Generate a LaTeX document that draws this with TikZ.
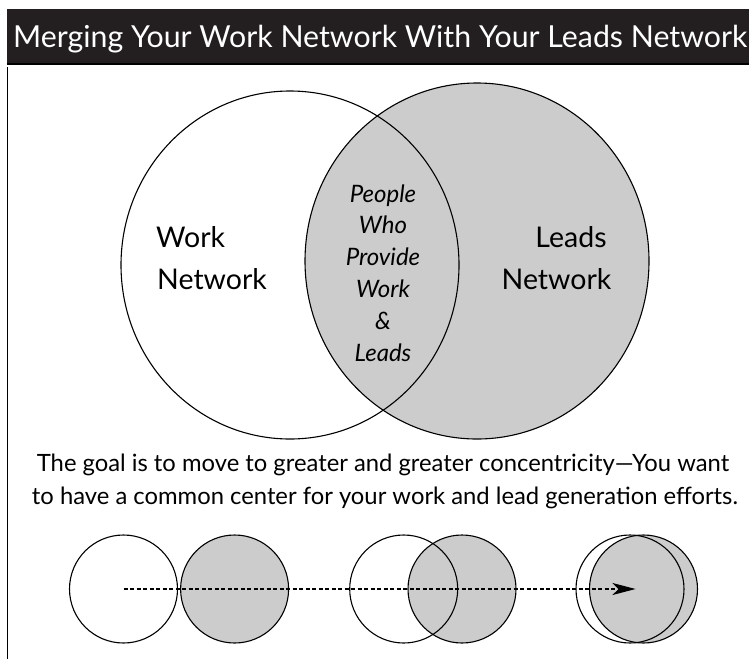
\documentclass[tikz,border=0pt]{standalone}
\usepackage{fontspec}
\setmainfont{Lato}
\usetikzlibrary{arrows.meta, shapes.geometric}
\definecolor{barblack}{HTML}{231F20}
\definecolor{venngray}{HTML}{CCCCCC}

\begin{document}
\begin{tikzpicture}[x=1pt, y=-1pt, >={Stealth[length=23pt, width=12pt, inset=6pt]},
  ring/.style={draw, ellipse, line width=1.1pt, inner sep=0pt},
  dot/.style={draw, circle, line width=1.1pt, inner sep=0pt, minimum size=108pt},
  biglabel/.style={anchor=base, inner sep=0pt, font=\fontsize{28.5}{34}\selectfont},
  lenslabel/.style={anchor=base, inner sep=0pt, font=\fontsize{24}{28}\selectfont\itshape},
  caption/.style={anchor=base, inner sep=0pt, font=\fontsize{23.8}{28}\selectfont}]
  \useasboundingbox (0,0) rectangle (749,659);
  % title bar
  \fill[barblack] (7,9) rectangle (749,64);
  \draw[black, line width=2pt] (7,64) -- (749,64);
  \node[anchor=base west, inner sep=0pt, text=white, font=\fontsize{30.3}{36}\selectfont] (title) at (13,47) {Merging Your Work Network With Your Leads Network};
  \draw[line width=1.6pt] (7.5,67) -- (7.5,659);

  % venn diagram
  \node[ring, fill=venngray, minimum width=344pt, minimum height=356pt] (leads) at (477,261) {};
  \node[ring, minimum width=338pt, minimum height=348pt] (work) at (290,265) {};
  \node[biglabel, anchor=base west] (worktop) at (156,247) {Work};
  \node[biglabel, anchor=base west] (workbot) at (157,289) {Network};
  \node[biglabel] (leadstop) at (571,247) {Leads};
  \node[biglabel] (leadsbot) at (556.5,289) {Network};
  \foreach \txt [count=\i] in {People, Who, Provide, Work, \&, Leads}
    \node[lenslabel] (lens\i) at (383,{202+31.8*(\i-1)}) {\txt};

  \node[caption] (goal1) at (383,471) {The goal is to move to greater and greater concentricity---You want};
  \node[caption] (goal2) at (385,504) {to have a common center for your work and lead generation efforts.};

  % steps towards concentricity
  \node[dot, fill=venngray] (g1) at (234.6,589) {};
  \node[dot] (w1) at (123.5,589) {};
  \node[dot, fill=venngray] (g2) at (462,589) {};
  \node[dot] (w2) at (403.7,589) {};
  \node[dot, fill=venngray] (g3) at (643.5,589) {};
  \node[dot] (w3) at (630,589) {};
  \coordinate (tip) at (635.5,589);
  \draw[->, line width=1.1pt, dash pattern=on 4pt off 2.5pt] (w1.center) -- (tip);
\end{tikzpicture}
\end{document}
